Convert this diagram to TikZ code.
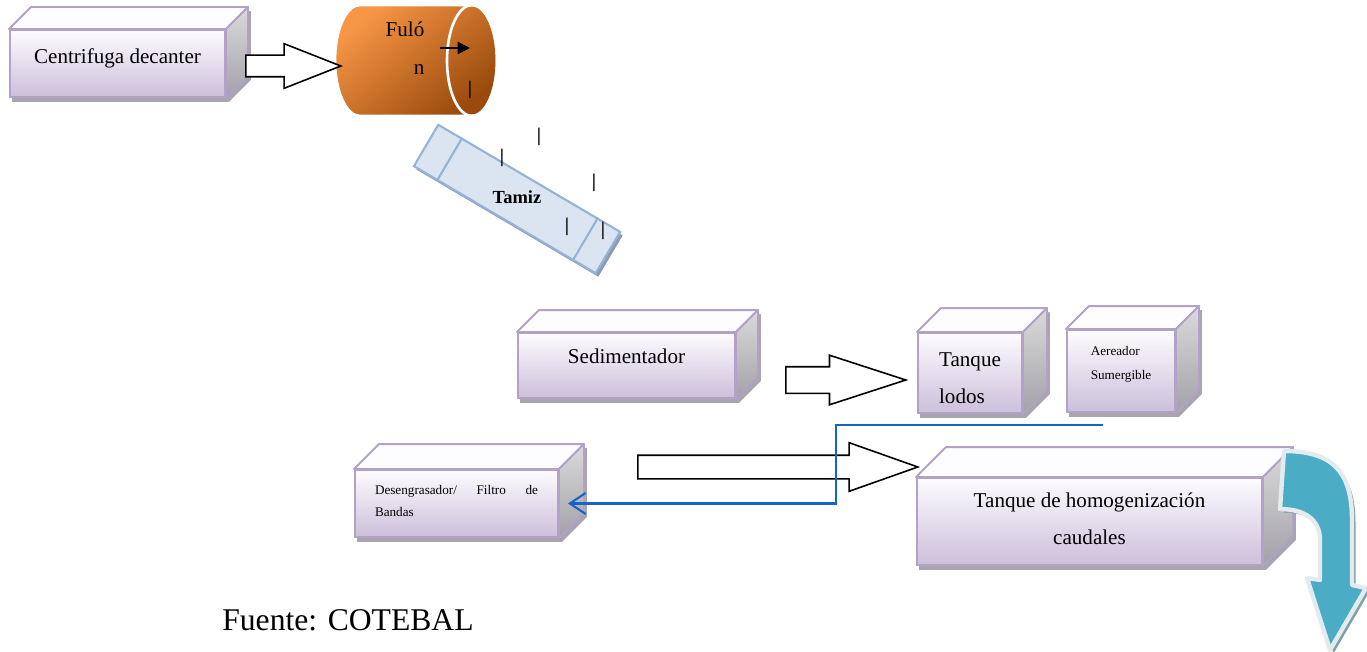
\documentclass[tikz,border=0pt]{standalone}
\usepackage{fontspec}
\setmainfont{Liberation Serif}
\usetikzlibrary{shapes.geometric, shapes.arrows, arrows.meta, positioning, calc, backgrounds, shadows}
\usepackage{xcolor}
\definecolor{TankLine}{HTML}{B3A2C7}
\definecolor{TankTop}{HTML}{FDFCFE}
\definecolor{TankLow}{HTML}{CCBFDB}
\definecolor{TankSideHi}{HTML}{DADADA}
\definecolor{TankSideLo}{HTML}{A3A1A8}
\definecolor{TankShadow}{HTML}{A9A5AF}
\definecolor{FulonLight}{HTML}{F79646}
\definecolor{FulonDark}{HTML}{9A4A0C}
\definecolor{SieveFill}{HTML}{DBE5F1}
\definecolor{SieveLine}{HTML}{95B3D7}
\definecolor{SieveShadow}{HTML}{8C9BB0}
\definecolor{ReturnBlue}{HTML}{1565C8}
\definecolor{OutTeal}{HTML}{4BACC6}
\definecolor{OutRim}{HTML}{E4EBEE}
\definecolor{OutShadow}{HTML}{7FA0AA}

% one pixel of the sketch
\newcommand{\pxu}{0.02cm}

\tikzset{
    % front face of the boxes
    tank/.style={
        rectangle,
        draw=TankLine,
        top color=TankTop,
        bottom color=TankLow,
        line width=1.1pt,
        inner sep=0pt,
        align=center,
        font=\fontsize{12}{21}\selectfont
    },
    tanktop/.style={
        draw=TankLine,
        fill=TankTop,
        line width=1.1pt,
        line join=round
    },
    tankside/.style={
        draw=TankLine,
        top color=TankSideHi,
        bottom color=TankSideLo,
        line width=1.1pt,
        line join=round
    },
    tankshadow/.style={
        fill=TankShadow
    },
    % hollow block arrows
    flow/.style={
        single arrow,
        draw=black,
        fill=white,
        line width=0.9pt,
        inner xsep=0pt,
        anchor=tail,
        single arrow head indent=0pt
    },
    fulon/.style={
        shading=axis,
        top color=FulonLight,
        bottom color=FulonDark,
        shading angle=40
    },
    fulonrim/.style={
        draw=white,
        line width=1.5pt
    },
    sieve/.style={
        rectangle,
        draw=SieveLine,
        fill=SieveFill,
        line width=1.2pt,
        inner sep=0pt,
        drop shadow={shadow xshift=1.5pt, shadow yshift=-2pt, fill=SieveShadow, opacity=1}
    },
    stray/.style={
        font=\fontsize{11}{11}\selectfont\bfseries,
        inner sep=0pt
    },
    % return line
    retline/.style={
        draw=ReturnBlue,
        line width=1.2pt,
        -{Straight Barb[length=9pt, width=12pt]}
    },
    outarrow/.style={
        fill=OutTeal,
        draw=OutRim,
        line width=2.5pt,
        line join=round,
        drop shadow={shadow xshift=2pt, shadow yshift=-2pt, fill=OutShadow, opacity=1}
    }
}

% top and right faces of a box, plus its shadow
\newcommand{\tankfaces}[2]{%
    \begin{scope}[on background layer]
        \fill[tankshadow] ([shift={(3,4)}]#1.north west) -- ([shift={(3,4)}]#1.south west)
            -- ([shift={(3,4)}]#1.south east) -- ([shift={(#2+3,-#2+4)}]#1.south east)
            -- ([shift={(#2+3,-#2+4)}]#1.north east) -- cycle;
    \end{scope}
    \draw[tanktop] (#1.north west) -- ([shift={(#2,-#2)}]#1.north west)
        -- ([shift={(#2,-#2)}]#1.north east) -- (#1.north east) -- cycle;
    \draw[tankside] (#1.north east) -- ([shift={(#2,-#2)}]#1.north east)
        -- ([shift={(#2,-#2)}]#1.south east) -- (#1.south east) -- cycle;
}

\begin{document}
\begin{tikzpicture}[x=0.02cm, y=-0.02cm]
    \useasboundingbox (0,0) rectangle (1367,652);

    % Boxes
    \node[tank, minimum width=215*\pxu, minimum height=67*\pxu, text depth=8.5pt] (cen) at (117.5,63.5) {Centrifuga decanter};
    \tankfaces{cen}{22}
    \node[tank, minimum width=217*\pxu, minimum height=65*\pxu, text depth=10.8pt] (sed) at (626.5,365.5) {Sedimentador};
    \tankfaces{sed}{22}
    \node[tank, minimum width=104*\pxu, minimum height=80*\pxu, align=left, text height=35pt] (lod) at (970,373) {Tanque\\lodos};
    \tankfaces{lod}{24}
    \node[tank, minimum width=108*\pxu, minimum height=82*\pxu, align=left, text depth=9.6pt,
          font=\fontsize{7.5}{13.6}\selectfont] (aer) at (1121,371) {Aereador\\Sumergible};
    \tankfaces{aer}{23}
    \node[tank, minimum width=203*\pxu, minimum height=67*\pxu, text width=163*\pxu, align=left, text depth=15.4pt,
          font=\fontsize{7.5}{12.5}\selectfont] (des) at (456.5,503.5) {\hbox to \linewidth{Desengrasador/\hfill Filtro\hfill de}\\Bandas};
    \tankfaces{des}{25}
    \node[tank, minimum width=345*\pxu, minimum height=87*\pxu, text depth=3.4pt] (hom) at (1089.5,521.5) {Tanque de homogenización\\caudales};
    \tankfaces{hom}{30}

    % Fulon
    \coordinate (fulon) at (416,60.5);
    \shade[fulon] (360,5) -- (472,5) arc[start angle=-90, end angle=90, x radius=25, y radius=55.5]
        -- (360,116) arc[start angle=90, end angle=270, x radius=25, y radius=55.5] -- cycle;
    \draw[fulonrim] (360,5) -- (472,5) arc[start angle=-90, end angle=90, x radius=25, y radius=55.5]
        -- (360,116) arc[start angle=90, end angle=270, x radius=25, y radius=55.5] -- cycle;
    \draw[fulonrim] (472,60.5) ellipse [x radius=25, y radius=55.5];
    \node[align=right, inner sep=0pt, font=\fontsize{12}{22}\selectfont] (fulontxt) at (405,48) {Fuló\\n};
    \coordinate (giro) at (440,48);
    \draw[line width=1pt, -{Triangle[length=7pt, width=7pt]}] (giro) -- ++(30,0);

    % Tamiz
    \node[sieve, rotate=-30.5, minimum width=211*\pxu, minimum height=48*\pxu] (tamiz) at (517,199) {};
    \draw[draw=SieveLine, line width=1.2pt] ($(tamiz.north west)!0.133!(tamiz.north east)$) -- ($(tamiz.south west)!0.133!(tamiz.south east)$);
    \draw[draw=SieveLine, line width=1.2pt] ($(tamiz.north west)!0.872!(tamiz.north east)$) -- ($(tamiz.south west)!0.872!(tamiz.south east)$);
    \node[font=\fontsize{10.5}{12}\selectfont\bfseries, inner sep=0pt] (tamiztxt) at (517,197) {Tamiz};

    % stray marks
    \foreach \bx/\by [count=\i] in {470/90, 539/137, 502/158, 594/183, 567/227, 603/231}
        \node[stray] (bar\i) at (\bx,\by) {|};

    % block arrows
    \node[flow, minimum height=95*\pxu, minimum width=43*\pxu, inner ysep=10*\pxu, single arrow head extend=11.5*\pxu, single arrow tip angle=43] (a1) at (245,66) {};
    \node[flow, minimum height=120*\pxu, minimum width=48*\pxu, inner ysep=12.5*\pxu, single arrow head extend=11.5*\pxu, single arrow tip angle=36] (a2) at (785,380) {};
    \node[flow, minimum height=280*\pxu, minimum width=47*\pxu, inner ysep=11*\pxu, single arrow head extend=12.5*\pxu, single arrow tip angle=39] (a3) at (637,467) {};

    % return line
    \coordinate (retorno) at (1103,425);
    \draw[retline] (retorno) -| ([shift={(277,0)}]des.east) -- ([shift={(9,0)}]des.east);

    % curved outlet arrow
    \filldraw[outarrow] (hom.north east) ++(21,-26) coordinate (salida)
        .. controls ++(47,0) and (1352,470) .. (1352,520) -- (1352,585) -- (1366,588) -- (1330,650)
        -- (1307,578) -- (1320,580) -- (1320,540) .. controls (1320,520) and (1305,509) .. (1280,509) -- cycle;

    \node[anchor=west, inner sep=0pt, font=\fontsize{18}{20}\selectfont] (fuente) at (222,620) {Fuente: COTEBAL};
\end{tikzpicture}
\end{document}
